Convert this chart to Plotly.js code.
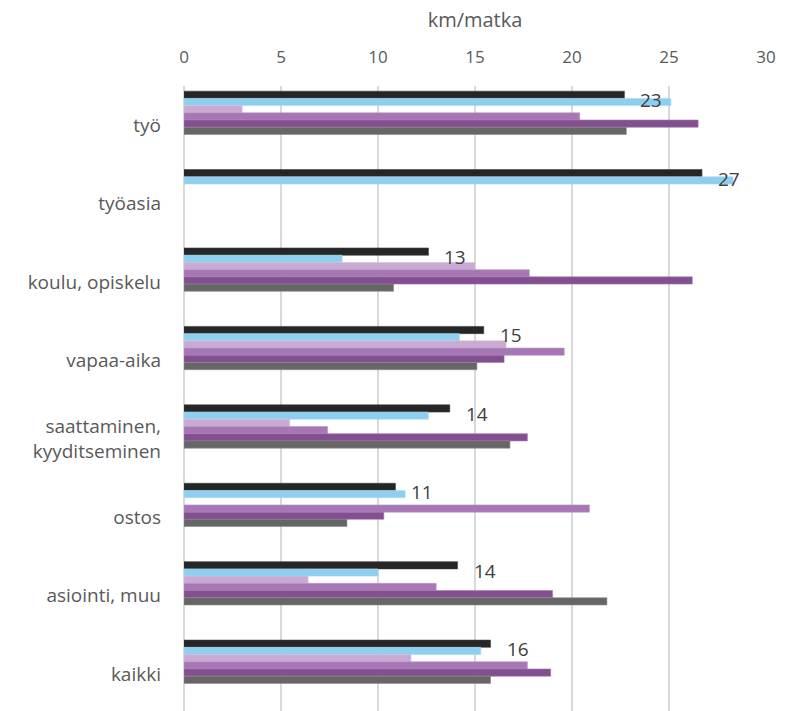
<!DOCTYPE html>
<html>
<head>
<meta charset="utf-8">
<script src="https://cdn.plot.ly/plotly-3.0.1.min.js"></script>
<style>
html,body{margin:0;padding:0;background:#fff;}
#chart{width:797px;height:711px;}
</style>
</head>
<body>
<div id="chart"></div>
<script>
// Categories (top to bottom)
const categories = ["työ", "työasia", "koulu, opiskelu", "vapaa-aika", "saattaminen,<br>kyyditseminen", "ostos", "asiointi, muu", "kaikki"];

// Six series, in drawing order top-to-bottom within each group (km/matka)
const s1 = [22.7, 26.7, 12.6, 15.45, 13.7, 10.9, 14.1, 15.8];   // black (labelled)
const s2 = [25.1, 28.3, 8.15, 14.2, 12.6, 11.4, 10.0, 15.3];    // light blue
const s3 = [3.0, null, 15.0, 16.6, 5.45, null, 6.4, 11.7];      // light lilac
const s4 = [20.4, null, 17.8, 19.6, 7.4, 20.9, 13.0, 17.7];     // medium purple
const s5 = [26.5, null, 26.2, 16.5, 17.7, 10.3, 19.0, 18.9];    // dark purple
const s6 = [22.8, null, 10.8, 15.1, 16.8, 8.4, 21.8, 15.8];     // grey

const xTicks = [0, 5, 10, 15, 20, 25, 30];

const seriesList = [s1, s2, s3, s4, s5, s6];
const colors = ["#262626", "#8ecff0", "#c9aad3", "#a777b5", "#834f91", "#666666"];
const edge = ["#3a3a3a", "#a6daf4", "#d8c0e0", "#bb95c7", "#a07aab", "#8a8a8a"];

const barW = 0.092;
const firstOffset = -0.434;

const traces = seriesList.map((vals, i) => ({
  type: "bar",
  orientation: "h",
  y: categories,
  x: vals,
  width: barW,
  offset: firstOffset + i * barW,
  marker: {color: colors[i], line: {color: edge[i], width: 0.6}},
  hoverinfo: "x+y",
  showlegend: false
}));

const annotations = categories.map((c, i) => ({
  x: s1[i],
  y: c,
  xref: "x",
  yref: "y",
  text: String(Math.round(s1[i])),
  showarrow: false,
  xanchor: "left",
  yanchor: "middle",
  xshift: 14,
  yshift: 25,
  font: {family: "Open Sans, sans-serif", size: 19, color: "#404040"}
}));

const layout = {
  width: 797,
  height: 711,
  margin: {l: 184, r: 31, t: 86, b: 0, pad: 0},
  paper_bgcolor: "#ffffff",
  plot_bgcolor: "#ffffff",
  barmode: "overlay",
  font: {family: "Open Sans, sans-serif", color: "#595959"},
  xaxis: {
    side: "top",
    range: [0, 30],
    tickvals: xTicks,
    ticktext: xTicks.map(String),
    showgrid: true,
    gridcolor: "#d9d9d9",
    gridwidth: 1.3,
    zeroline: true,
    zerolinecolor: "#d9d9d9",
    zerolinewidth: 1.3,
    showline: false,
    ticks: "",
    ticklabelstandoff: 19,
    tickfont: {family: "Open Sans, sans-serif", size: 17, color: "#595959"},
    title: {text: "km/matka", standoff: 11, font: {family: "Open Sans, sans-serif", size: 20, color: "#595959"}},
    fixedrange: true
  },
  yaxis: {
    type: "category",
    categoryorder: "array",
    categoryarray: categories,
    range: [7.47, -0.5],
    showgrid: false,
    zeroline: false,
    showline: false,
    ticks: "",
    ticklabelstandoff: 22,
    tickfont: {family: "Open Sans, sans-serif", size: 19, color: "#595959"},
    fixedrange: true
  },
  annotations: annotations
};

Plotly.newPlot("chart", traces, layout, {displayModeBar: false, staticPlot: true});
</script>
</body>
</html>
